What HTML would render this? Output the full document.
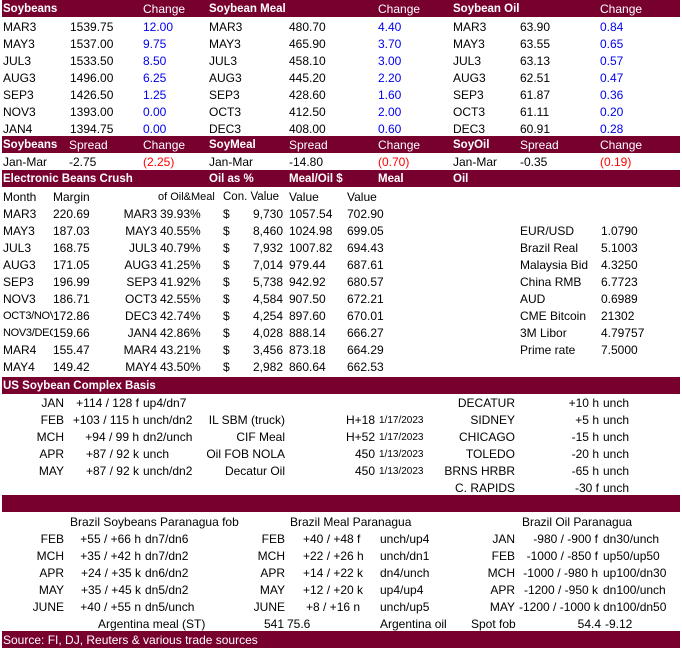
<!DOCTYPE html>
<html><head><meta charset="utf-8"><style>
body{margin:0;width:682px;height:650px;background:#fff;position:relative;overflow:hidden;font-family:"Liberation Sans",sans-serif;font-size:12px;color:#000}
.b{position:absolute;left:2px;width:678px;background:#78002e}
span{position:absolute;white-space:nowrap;line-height:16px}
.w{color:#fff}.h{font-weight:bold;font-size:11.5px}
.bl{color:#0000ee}.r{color:#ff0000}
.s{font-size:10px}
</style></head><body>
<div class="b" style="top:0;height:17px"></div>
<div class="b" style="top:136px;height:17px"></div>
<div class="b" style="top:170px;height:17px"></div>
<div class="b" style="top:377px;height:17px"></div>
<div class="b" style="top:495px;height:17px"></div>
<div class="b" style="top:631px;height:17px"></div>

<span class="w h" style="left:3px;top:1px">Soybeans</span>
<span class="w" style="left:143px;top:1px">Change</span>
<span class="w h" style="left:209px;top:1px">Soybean Meal</span>
<span class="w" style="left:378px;top:1px">Change</span>
<span class="w h" style="left:453px;top:1px">Soybean Oil</span>
<span class="w" style="left:600px;top:1px">Change</span>

<span style="left:3px;top:19px">MAR3</span><span style="left:70px;top:19px">1539.75</span><span class="bl" style="left:143px;top:19px">12.00</span>
<span style="left:3px;top:36px">MAY3</span><span style="left:70px;top:36px">1537.00</span><span class="bl" style="left:143px;top:36px">9.75</span>
<span style="left:3px;top:53px">JUL3</span><span style="left:70px;top:53px">1533.50</span><span class="bl" style="left:143px;top:53px">8.50</span>
<span style="left:3px;top:70px">AUG3</span><span style="left:70px;top:70px">1496.00</span><span class="bl" style="left:143px;top:70px">6.25</span>
<span style="left:3px;top:87px">SEP3</span><span style="left:70px;top:87px">1426.50</span><span class="bl" style="left:143px;top:87px">1.25</span>
<span style="left:3px;top:104px">NOV3</span><span style="left:70px;top:104px">1393.00</span><span class="bl" style="left:143px;top:104px">0.00</span>
<span style="left:3px;top:121px">JAN4</span><span style="left:70px;top:121px">1394.75</span><span class="bl" style="left:143px;top:121px">0.00</span>

<span style="left:209px;top:19px">MAR3</span><span style="left:289px;top:19px">480.70</span><span class="bl" style="left:378px;top:19px">4.40</span>
<span style="left:209px;top:36px">MAY3</span><span style="left:289px;top:36px">465.90</span><span class="bl" style="left:378px;top:36px">3.70</span>
<span style="left:209px;top:53px">JUL3</span><span style="left:289px;top:53px">458.10</span><span class="bl" style="left:378px;top:53px">3.00</span>
<span style="left:209px;top:70px">AUG3</span><span style="left:289px;top:70px">445.20</span><span class="bl" style="left:378px;top:70px">2.20</span>
<span style="left:209px;top:87px">SEP3</span><span style="left:289px;top:87px">428.60</span><span class="bl" style="left:378px;top:87px">1.60</span>
<span style="left:209px;top:104px">OCT3</span><span style="left:289px;top:104px">412.50</span><span class="bl" style="left:378px;top:104px">2.00</span>
<span style="left:209px;top:121px">DEC3</span><span style="left:289px;top:121px">408.00</span><span class="bl" style="left:378px;top:121px">0.60</span>

<span style="left:453px;top:19px">MAR3</span><span style="left:520px;top:19px">63.90</span><span class="bl" style="left:600px;top:19px">0.84</span>
<span style="left:453px;top:36px">MAY3</span><span style="left:520px;top:36px">63.55</span><span class="bl" style="left:600px;top:36px">0.65</span>
<span style="left:453px;top:53px">JUL3</span><span style="left:520px;top:53px">63.13</span><span class="bl" style="left:600px;top:53px">0.57</span>
<span style="left:453px;top:70px">AUG3</span><span style="left:520px;top:70px">62.51</span><span class="bl" style="left:600px;top:70px">0.47</span>
<span style="left:453px;top:87px">SEP3</span><span style="left:520px;top:87px">61.87</span><span class="bl" style="left:600px;top:87px">0.36</span>
<span style="left:453px;top:104px">OCT3</span><span style="left:520px;top:104px">61.11</span><span class="bl" style="left:600px;top:104px">0.20</span>
<span style="left:453px;top:121px">DEC3</span><span style="left:520px;top:121px">60.91</span><span class="bl" style="left:600px;top:121px">0.28</span>

<span class="w h" style="left:3px;top:137px">Soybeans</span><span class="w" style="left:69px;top:137px">Spread</span><span class="w" style="left:143px;top:137px">Change</span>
<span class="w h" style="left:209px;top:137px">SoyMeal</span><span class="w" style="left:289px;top:137px">Spread</span><span class="w" style="left:378px;top:137px">Change</span>
<span class="w h" style="left:453px;top:137px">SoyOil</span><span class="w" style="left:520px;top:137px">Spread</span><span class="w" style="left:600px;top:137px">Change</span>
<span style="left:3px;top:154px">Jan-Mar</span><span style="left:69px;top:154px">-2.75</span><span class="r" style="left:143px;top:154px">(2.25)</span>
<span style="left:209px;top:154px">Jan-Mar</span><span style="left:289px;top:154px">-14.80</span><span class="r" style="left:378px;top:154px">(0.70)</span>
<span style="left:453px;top:154px">Jan-Mar</span><span style="left:520px;top:154px">-0.35</span><span class="r" style="left:600px;top:154px">(0.19)</span>

<span class="w h" style="left:3px;top:171px">Electronic Beans Crush</span>
<span class="w h" style="left:209px;top:171px">Oil as %</span>
<span class="w h" style="left:289px;top:171px">Meal/Oil $</span>
<span class="w h" style="left:378px;top:171px">Meal</span>
<span class="w h" style="left:453px;top:171px">Oil</span>

<span style="left:3px;top:189px">Month</span><span style="left:53px;top:189px">Margin</span><span style="left:158px;top:189px;font-size:11px">of Oil&amp;Meal</span><span style="left:223px;top:189px;font-size:11.5px">Con. Value</span><span style="left:289px;top:189px">Value</span><span style="left:347px;top:189px">Value</span>

<span style="left:3px;top:206px">MAR3</span><span style="left:53px;top:206px">220.69</span><span style="right:525px;top:206px">MAR3</span><span style="left:160px;top:206px">39.93%</span><span style="left:223px;top:206px">$</span><span style="right:399px;top:206px">9,730</span><span style="left:289px;top:206px">1057.54</span><span style="left:347px;top:206px">702.90</span>
<span style="left:3px;top:223px">MAY3</span><span style="left:53px;top:223px">187.03</span><span style="right:525px;top:223px">MAY3</span><span style="left:160px;top:223px">40.55%</span><span style="left:223px;top:223px">$</span><span style="right:399px;top:223px">8,460</span><span style="left:289px;top:223px">1024.98</span><span style="left:347px;top:223px">699.05</span>
<span style="left:3px;top:240px">JUL3</span><span style="left:53px;top:240px">168.75</span><span style="right:525px;top:240px">JUL3</span><span style="left:160px;top:240px">40.79%</span><span style="left:223px;top:240px">$</span><span style="right:399px;top:240px">7,932</span><span style="left:289px;top:240px">1007.82</span><span style="left:347px;top:240px">694.43</span>
<span style="left:3px;top:257px">AUG3</span><span style="left:53px;top:257px">171.05</span><span style="right:525px;top:257px">AUG3</span><span style="left:160px;top:257px">41.25%</span><span style="left:223px;top:257px">$</span><span style="right:399px;top:257px">7,014</span><span style="left:289px;top:257px">979.44</span><span style="left:347px;top:257px">687.61</span>
<span style="left:3px;top:274px">SEP3</span><span style="left:53px;top:274px">196.99</span><span style="right:525px;top:274px">SEP3</span><span style="left:160px;top:274px">41.92%</span><span style="left:223px;top:274px">$</span><span style="right:399px;top:274px">5,738</span><span style="left:289px;top:274px">942.92</span><span style="left:347px;top:274px">680.57</span>
<span style="left:3px;top:291px">NOV3</span><span style="left:53px;top:291px">186.71</span><span style="right:525px;top:291px">OCT3</span><span style="left:160px;top:291px">42.55%</span><span style="left:223px;top:291px">$</span><span style="right:399px;top:291px">4,584</span><span style="left:289px;top:291px">907.50</span><span style="left:347px;top:291px">672.21</span>
<span style="left:3px;top:308px;width:50px;overflow:hidden;font-size:11px;letter-spacing:-0.3px">OCT3/NOV3</span><span style="left:53px;top:308px">172.86</span><span style="right:525px;top:308px">DEC3</span><span style="left:160px;top:308px">42.74%</span><span style="left:223px;top:308px">$</span><span style="right:399px;top:308px">4,254</span><span style="left:289px;top:308px">897.60</span><span style="left:347px;top:308px">670.01</span>
<span style="left:3px;top:325px;width:50px;overflow:hidden;font-size:11px;letter-spacing:-0.3px">NOV3/DEC3</span><span style="left:53px;top:325px">159.66</span><span style="right:525px;top:325px">JAN4</span><span style="left:160px;top:325px">42.86%</span><span style="left:223px;top:325px">$</span><span style="right:399px;top:325px">4,028</span><span style="left:289px;top:325px">888.14</span><span style="left:347px;top:325px">666.27</span>
<span style="left:3px;top:342px">MAR4</span><span style="left:53px;top:342px">155.47</span><span style="right:525px;top:342px">MAR4</span><span style="left:160px;top:342px">43.21%</span><span style="left:223px;top:342px">$</span><span style="right:399px;top:342px">3,456</span><span style="left:289px;top:342px">873.18</span><span style="left:347px;top:342px">664.29</span>
<span style="left:3px;top:359px">MAY4</span><span style="left:53px;top:359px">149.42</span><span style="right:525px;top:359px">MAY4</span><span style="left:160px;top:359px">43.50%</span><span style="left:223px;top:359px">$</span><span style="right:399px;top:359px">2,982</span><span style="left:289px;top:359px">860.64</span><span style="left:347px;top:359px">662.53</span>

<span style="left:520px;top:223px">EUR/USD</span><span style="left:601px;top:223px">1.0790</span>
<span style="left:520px;top:240px">Brazil Real</span><span style="left:601px;top:240px">5.1003</span>
<span style="left:520px;top:257px">Malaysia Bid</span><span style="left:601px;top:257px">4.3250</span>
<span style="left:520px;top:274px">China RMB</span><span style="left:601px;top:274px">6.7723</span>
<span style="left:520px;top:291px">AUD</span><span style="left:601px;top:291px">0.6989</span>
<span style="left:520px;top:308px">CME Bitcoin</span><span style="left:601px;top:308px">21302</span>
<span style="left:520px;top:325px">3M Libor</span><span style="left:601px;top:325px">4.79757</span>
<span style="left:520px;top:342px">Prime rate</span><span style="left:601px;top:342px">7.5000</span>

<span class="w h" style="left:3px;top:378px">US Soybean Complex Basis</span>

<span style="right:618px;top:395px">JAN</span><span style="right:543px;top:395px">+114 / 128 f</span><span style="left:143px;top:395px">up4/dn7</span>
<span style="right:618px;top:412px">FEB</span><span style="right:543px;top:412px">+103 / 115 h</span><span style="left:143px;top:412px">unch/dn2</span>
<span style="right:618px;top:429px">MCH</span><span style="right:543px;top:429px">+94 / 99 h</span><span style="left:143px;top:429px">dn2/unch</span>
<span style="right:618px;top:446px">APR</span><span style="right:543px;top:446px">+87 / 92 k</span><span style="left:143px;top:446px">unch</span>
<span style="right:618px;top:463px">MAY</span><span style="right:543px;top:463px">+87 / 92 k</span><span style="left:143px;top:463px">unch/dn2</span>

<span style="right:397px;top:412px">IL SBM (truck)</span><span style="right:307px;top:412px">H+18</span><span class="s" style="left:379px;top:413px">1/17/2023</span>
<span style="right:397px;top:429px">CIF Meal</span><span style="right:307px;top:429px">H+52</span><span class="s" style="left:379px;top:430px">1/17/2023</span>
<span style="right:397px;top:446px">Oil FOB NOLA</span><span style="right:307px;top:446px">450</span><span class="s" style="left:379px;top:447px">1/13/2023</span>
<span style="right:397px;top:463px">Decatur Oil</span><span style="right:307px;top:463px">450</span><span class="s" style="left:379px;top:464px">1/13/2023</span>

<span style="right:167px;top:395px">DECATUR</span><span style="right:83px;top:395px">+10 h</span><span style="left:603px;top:395px">unch</span>
<span style="right:167px;top:412px">SIDNEY</span><span style="right:83px;top:412px">+5 h</span><span style="left:603px;top:412px">unch</span>
<span style="right:167px;top:429px">CHICAGO</span><span style="right:83px;top:429px">-15 h</span><span style="left:603px;top:429px">unch</span>
<span style="right:167px;top:446px">TOLEDO</span><span style="right:83px;top:446px">-20 h</span><span style="left:603px;top:446px">unch</span>
<span style="right:167px;top:463px">BRNS HRBR</span><span style="right:83px;top:463px">-65 h</span><span style="left:603px;top:463px">unch</span>
<span style="right:167px;top:480px">C. RAPIDS</span><span style="right:83px;top:480px">-30 f</span><span style="left:603px;top:480px">unch</span>

<span style="left:70px;top:514px">Brazil Soybeans Paranagua fob</span>
<span style="left:290px;top:514px">Brazil Meal Paranagua</span>
<span style="left:522px;top:514px">Brazil Oil Paranagua</span>

<span style="right:618px;top:531px">FEB</span><span style="right:541px;top:531px">+55 / +66 h</span><span style="left:145px;top:531px">dn7/dn6</span>
<span style="right:618px;top:548px">MCH</span><span style="right:541px;top:548px">+35 / +42 h</span><span style="left:145px;top:548px">dn7/dn2</span>
<span style="right:618px;top:565px">APR</span><span style="right:541px;top:565px">+24 / +35 k</span><span style="left:145px;top:565px">dn6/dn2</span>
<span style="right:618px;top:582px">MAY</span><span style="right:541px;top:582px">+35 / +45 k</span><span style="left:145px;top:582px">dn5/dn2</span>
<span style="right:618px;top:599px">JUNE</span><span style="right:541px;top:599px">+40 / +55 n</span><span style="left:145px;top:599px">dn5/unch</span>

<span style="right:397px;top:531px">FEB</span><span style="left:303px;top:531px">+40 / +48 f</span><span style="left:380px;top:531px">unch/up4</span>
<span style="right:397px;top:548px">MCH</span><span style="left:303px;top:548px">+22 / +26 h</span><span style="left:380px;top:548px">unch/dn1</span>
<span style="right:397px;top:565px">APR</span><span style="left:303px;top:565px">+14 / +22 k</span><span style="left:380px;top:565px">dn4/unch</span>
<span style="right:397px;top:582px">MAY</span><span style="left:303px;top:582px">+12 / +20 k</span><span style="left:380px;top:582px">up4/up4</span>
<span style="right:397px;top:599px">JUNE</span><span style="left:306px;top:599px">+8 / +16 n</span><span style="left:380px;top:599px">unch/up5</span>

<span style="right:167px;top:531px">JAN</span><span style="right:84px;top:531px">-980 / -900 f</span><span style="left:603px;top:531px">dn30/unch</span>
<span style="right:167px;top:548px">FEB</span><span style="right:84px;top:548px">-1000 / -850 f</span><span style="left:603px;top:548px">up50/up50</span>
<span style="right:167px;top:565px">MCH</span><span style="right:84px;top:565px">-1000 / -980 h</span><span style="left:603px;top:565px">up100/dn30</span>
<span style="right:167px;top:582px">APR</span><span style="right:84px;top:582px">-1200 / -950 k</span><span style="left:603px;top:582px">dn100/unch</span>
<span style="right:167px;top:599px">MAY</span><span style="left:519px;top:599px;width:84px;overflow:hidden">-1200 / -1000 k</span><span style="left:603px;top:599px">dn100/dn50</span>

<span style="left:98px;top:616px">Argentina meal (ST)</span><span style="right:398px;top:616px">541</span><span style="left:287px;top:616px">75.6</span>
<span style="left:380px;top:616px">Argentina oil</span><span style="left:471px;top:616px">Spot fob</span><span style="right:81px;top:616px">54.4</span><span style="left:605px;top:616px">-9.12</span>

<span class="w" style="left:3px;top:632px">Source: FI, DJ, Reuters &amp; various trade sources</span>
</body></html>
